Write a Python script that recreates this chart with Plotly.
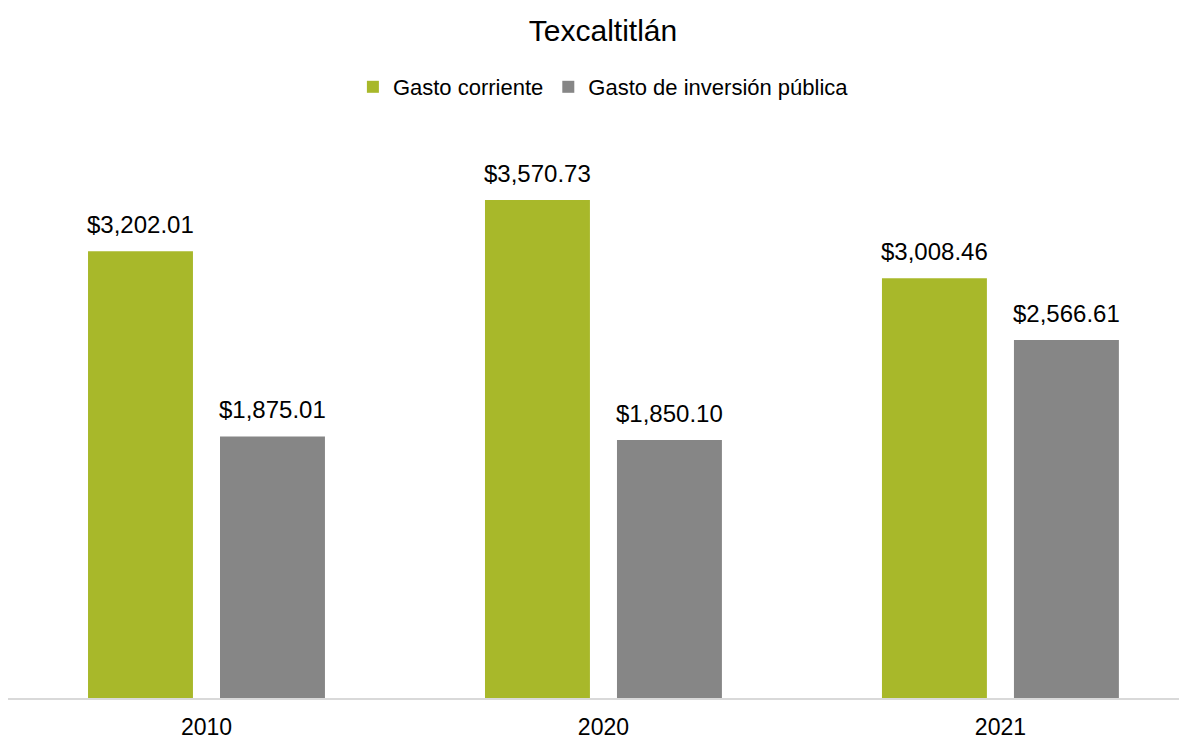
import plotly.graph_objects as go

categories = ["2010", "2020", "2021"]
series_names = ["Gasto corriente", "Gasto de inversión pública"]
gasto_corriente = [3202.01, 3570.73, 3008.46]
gasto_inversion = [1875.01, 1850.10, 2566.61]
colors = ["#A8B82A", "#868686"]

W, H = 1187, 739
ML, MR, MT, MB = 0, 8, 132, 49
FONT = "Liberation Sans, Arial, sans-serif"

fig = go.Figure()
for name, vals, col in zip(series_names, [gasto_corriente, gasto_inversion], colors):
    fig.add_trace(go.Bar(x=categories, y=vals, name=name, marker_color=col,
                         marker_line_width=0, hoverinfo="skip"))

# data labels as annotations placed above bars
x_range = [-0.5, 2.47]
plot_w = W - ML - MR
plot_h = H - MT - MB
cat_px = plot_w / (x_range[1] - x_range[0])
bargap = 0.335
slot = cat_px * (1 - bargap) / 2
annotations = []
for i, vals in enumerate([gasto_corriente, gasto_inversion]):
    shift = (-0.5 + i) * slot
    for idx, v in enumerate(vals):
        annotations.append(dict(x=idx, y=v, xref="x", yref="y", text=f"${v:,.2f}",
                                showarrow=False, xshift=shift, yanchor="bottom", yshift=11,
                                font=dict(family=FONT, size=24, color="#000000")))

fig.update_layout(
    width=W, height=H,
    margin=dict(l=ML, r=MR, t=MT, b=MB),
    paper_bgcolor="white", plot_bgcolor="white",
    barmode="group", bargap=bargap, bargroupgap=0.205,
    title=dict(text="Texcaltitlán", x=0.5013, xanchor="center",
               y=1 - 22 / H, yanchor="middle",
               font=dict(family=FONT, size=30, color="#000000")),
    legend=dict(orientation="h", x=0.505, xanchor="center", y=((H - 8) - MB - 71) / plot_h,
                yanchor="middle", font=dict(family=FONT, size=22, color="#000000"),
                itemwidth=30, traceorder="normal"),
    xaxis=dict(type="category", range=x_range, showline=True, linecolor="#D9D9D9", linewidth=1.5,
               ticks="", showgrid=False, ticklabelstandoff=8,
               tickfont=dict(family=FONT, size=23, color="#000000")),
    yaxis=dict(range=[0, 4000], showticklabels=False, showline=False, showgrid=False, zeroline=False),
    annotations=annotations,
    showlegend=True,
)

fig.write_html("out.html")
